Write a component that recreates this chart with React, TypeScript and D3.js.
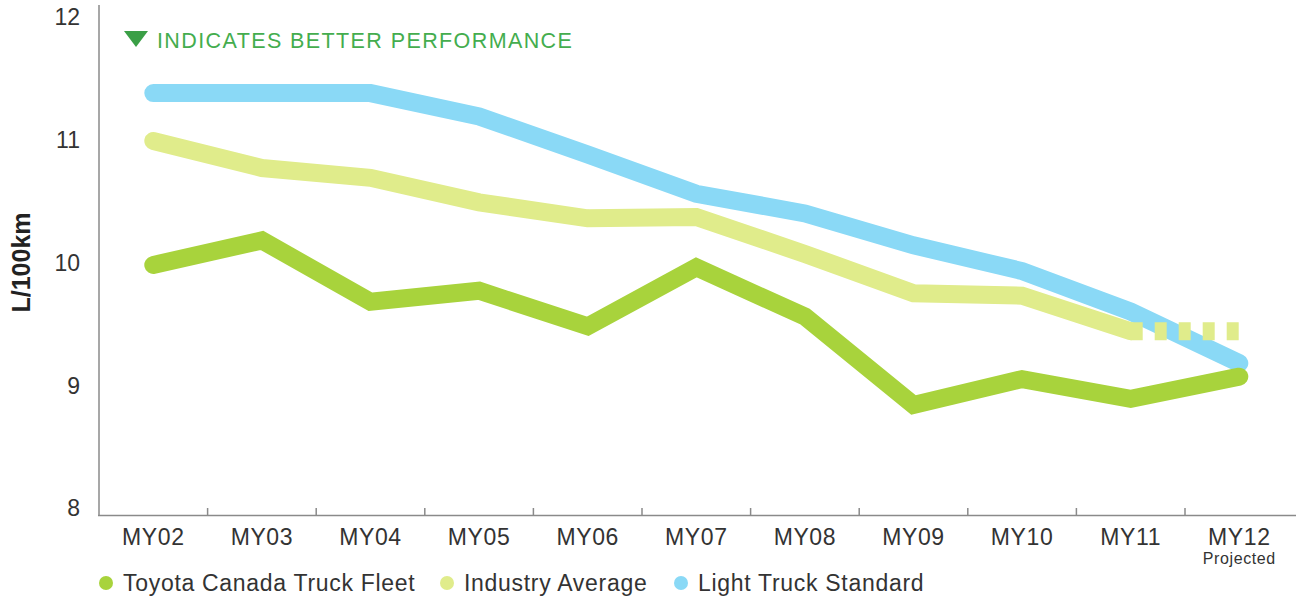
import React, { useEffect, useRef } from "react";
import * as d3 from "d3";

const categories = ["MY02", "MY03", "MY04", "MY05", "MY06", "MY07", "MY08", "MY09", "MY10", "MY11", "MY12"];
const toyotaFleet = [9.98, 10.18, 9.68, 9.77, 9.48, 9.96, 9.56, 8.84, 9.05, 8.89, 9.07];
const industryAverage = [10.99, 10.77, 10.69, 10.49, 10.36, 10.37, 10.07, 9.75, 9.73, 9.44, 9.44];
const lightTruckStandard = [11.38, 11.38, 11.38, 11.19, 10.88, 10.56, 10.4, 10.14, 9.93, 9.6, 9.18];
const yTicks = [8, 9, 10, 11, 12];
const legendItems = ["Toyota Canada Truck Fleet", "Industry Average", "Light Truck Standard"];

const COLORS = { toyota: "#a8d33c", industry: "#e0ec8b", standard: "#8ad9f6" };
const FONT = "'Liberation Sans', Arial, sans-serif";

export default function App() {
  const svgRef = useRef<SVGSVGElement | null>(null);

  useEffect(() => {
    if (!svgRef.current) return;
    const svg = d3.select(svgRef.current);
    svg.selectAll("*").remove();

    const x = d3.scaleBand<string>().domain(categories).range([99, 1293.6]);
    const y = d3.scaleLinear().domain([8, 12]).range([508, 17]);
    const cx = (c: string) => (x(c) as number) + x.bandwidth() / 2;

    // axes
    const axisColor = "#8a8a8a";
    svg.append("line")
      .attr("x1", 99).attr("x2", 99).attr("y1", 5).attr("y2", 516)
      .attr("stroke", axisColor).attr("stroke-width", 1.5);
    svg.append("line")
      .attr("x1", 98).attr("x2", 1296).attr("y1", 515.5).attr("y2", 515.5)
      .attr("stroke", axisColor).attr("stroke-width", 1.5);
    categories.slice(1).forEach((c) => {
      const tx = x(c) as number;
      svg.append("line")
        .attr("x1", tx).attr("x2", tx).attr("y1", 508).attr("y2", 515)
        .attr("stroke", axisColor).attr("stroke-width", 1.5);
    });

    // y tick labels
    svg.append("g").selectAll("text").data(yTicks).join("text")
      .attr("x", 80).attr("y", (d) => y(d))
      .attr("dy", "0.36em")
      .attr("text-anchor", "end")
      .attr("font-family", FONT).attr("font-size", 23).attr("fill", "#333")
      .text((d) => d);

    // x tick labels
    svg.append("g").selectAll("text").data(categories).join("text")
      .attr("x", (d) => cx(d)).attr("y", 545)
      .attr("text-anchor", "middle")
      .attr("font-family", FONT).attr("font-size", 23).attr("letter-spacing", 0.6).attr("fill", "#333")
      .text((d) => d);
    svg.append("text")
      .attr("x", cx("MY12")).attr("y", 564)
      .attr("text-anchor", "middle")
      .attr("font-family", FONT).attr("font-size", 16).attr("letter-spacing", 0.6).attr("fill", "#333")
      .text("Projected");

    // y axis title
    svg.append("text")
      .attr("transform", `translate(30,${y(10)}) rotate(-90)`)
      .attr("text-anchor", "middle")
      .attr("font-family", FONT).attr("font-size", 25).attr("font-weight", "bold").attr("fill", "#222")
      .text("L/100km");

    // note
    svg.append("path")
      .attr("d", "M124,31 L148,31 L136,47 Z")
      .attr("fill", "#3a9f46");
    svg.append("text")
      .attr("x", 157).attr("y", 48)
      .attr("font-family", FONT).attr("font-size", 21.5).attr("letter-spacing", 1.4).attr("fill", "#44ad4e")
      .text("INDICATES BETTER PERFORMANCE");

    const line = d3.line<[string, number]>()
      .x((d) => cx(d[0]))
      .y((d) => y(d[1]));

    const drawLine = (values: number[], color: string) => {
      svg.append("path")
        .datum(categories.map((c, i) => [c, values[i]] as [string, number]))
        .attr("fill", "none")
        .attr("stroke", color)
        .attr("stroke-width", 18)
        .attr("stroke-linecap", "round")
        .attr("stroke-linejoin", "miter")
        .attr("d", line);
    };

    drawLine(lightTruckStandard, COLORS.standard);

    // industry average: solid up to MY11, dotted projection to MY12
    const indData = categories.map((c, i) => [c, industryAverage[i]] as [string, number]);
    svg.append("path")
      .datum(indData.slice(0, 10))
      .attr("fill", "none")
      .attr("stroke", COLORS.industry)
      .attr("stroke-width", 18)
      .attr("stroke-linecap", "round")
      .attr("stroke-linejoin", "miter")
      .attr("d", line);
    svg.append("path")
      .datum(indData.slice(9))
      .attr("fill", "none")
      .attr("stroke", COLORS.industry)
      .attr("stroke-width", 18)
      .attr("stroke-dasharray", "12 12")
      .attr("d", line);

    drawLine(toyotaFleet, COLORS.toyota);

    // legend
    const legendColors = [COLORS.toyota, COLORS.industry, COLORS.standard];
    const legendX = [106, 447, 681];
    legendItems.forEach((label, i) => {
      svg.append("circle")
        .attr("cx", legendX[i]).attr("cy", 583).attr("r", 7)
        .attr("fill", legendColors[i]);
      svg.append("text")
        .attr("x", legendX[i] + 17).attr("y", 591)
        .attr("font-family", FONT).attr("font-size", 23).attr("letter-spacing", 0.7).attr("fill", "#333")
        .text(label);
    });
  }, []);

  return (
    <svg
      ref={svgRef}
      width={1296}
      height={603}
      style={{ position: "absolute", left: 0, top: 0, background: "#fff" }}
    />
  );
}
